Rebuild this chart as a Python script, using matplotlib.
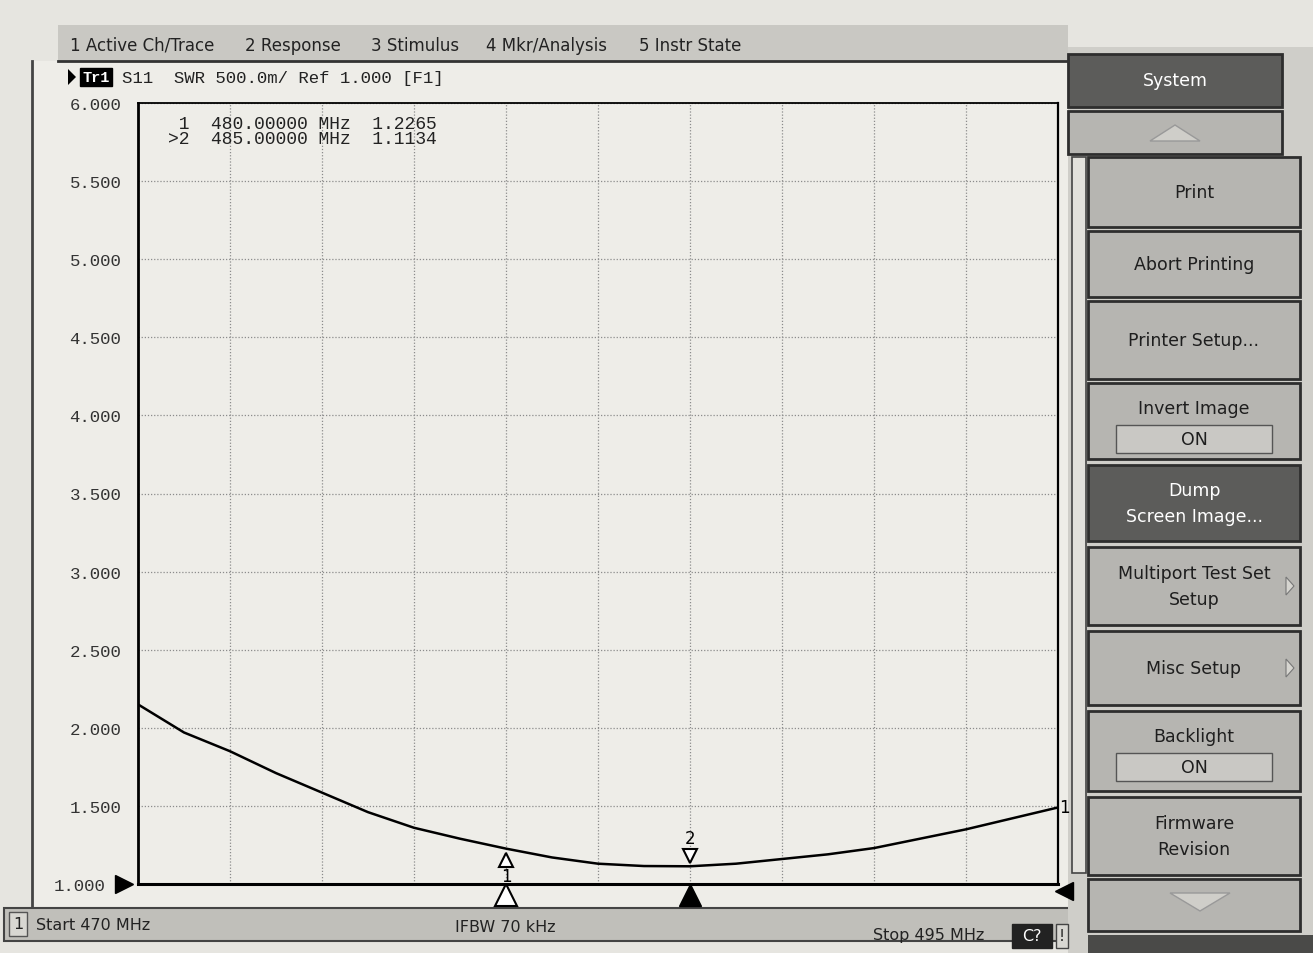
import numpy as np
import matplotlib.pyplot as plt
from matplotlib.patches import Rectangle, Polygon
from matplotlib.transforms import offset_copy, ScaledTranslation

# S11 SWR trace (MHz, SWR)
freq_mhz = [470.0, 471.25, 472.5, 473.75, 475.0, 476.25, 477.5, 478.75, 480.0,
            481.25, 482.5, 483.75, 485.0, 486.25, 487.5, 488.75, 490.0,
            491.25, 492.5, 493.75, 495.0]
swr = [2.15, 1.97, 1.85, 1.71, 1.585, 1.46, 1.36, 1.29, 1.2265,
       1.17, 1.13, 1.115, 1.1134, 1.13, 1.16, 1.19, 1.23,
       1.29, 1.35, 1.42, 1.49]

marker_ids = ['1', '2']
marker_freq = [480.0, 485.0]
marker_swr = [1.2265, 1.1134]
active_marker = '2'

start_mhz, stop_mhz = 470, 495
y_ticks = [1.0, 1.5, 2.0, 2.5, 3.0, 3.5, 4.0, 4.5, 5.0, 5.5, 6.0]

tabs = ['1 Active Ch/Trace', '2 Response', '3 Stimulus', '4 Mkr/Analysis', '5 Instr State']
softkeys = ['System', '', 'Print', 'Abort Printing', 'Printer Setup...', 'Invert Image',
            'Dump\nScreen Image...', 'Multiport Test Set\nSetup', 'Misc Setup',
            'Backlight', 'Firmware\nRevision', '']

W, H = 1313, 954
MONO = 'Liberation Mono'
SANS = 'DejaVu Sans'
PAPER = '#eeede8'

fig = plt.figure(figsize=(W / 100, H / 100), dpi=100)
fig.patch.set_facecolor('#e6e5e0')

# background layer in pixel coords for the instrument screen furniture
bg = fig.add_axes([0, 0, 1, 1])
bg.set_xlim(0, W)
bg.set_ylim(H, 0)
bg.axis('off')

# window
bg.add_patch(Rectangle((32, 62), 1036, 846, fc=PAPER, ec='none'))
bg.plot([32, 32], [62, 908], color='#444', lw=2)
# tab bar
bg.add_patch(Rectangle((58, 26), 1010, 36, fc='#c9c8c3', ec='none'))
bg.plot([58, 1068], [62, 62], color='#333', lw=2)
tab_x = [70, 245, 371, 486, 639]
for tx, t in zip(tab_x, tabs):
    bg.text(tx, 46, t, fontsize=12, family=SANS, color='#222', va='center')

# trace header line
bg.add_patch(Polygon([[68, 70], [68, 86], [76, 78]], closed=True, fc='black'))
bg.add_patch(Rectangle((80, 69), 32, 18, fc='black', ec='black'))
bg.text(96, 78, 'Tr1', fontsize=11, family=MONO, color='white', ha='center',
        va='center', weight='bold')
bg.text(122, 78, 'S11  SWR 500.0m/ Ref 1.000 [F1]', fontsize=12.5, family=MONO,
        color='#222', va='center')

# status bar
bg.add_patch(Rectangle((4, 909), 1076, 33, fc='#c0bfba', ec='#444', lw=1.5))
bg.add_patch(Rectangle((9, 913), 18, 24, fc='#d8d7d2', ec='#555', lw=1))
bg.text(18, 925, '1', fontsize=11.5, family=SANS, color='#222', ha='center', va='center')
bg.text(36, 926, 'Start %d MHz' % start_mhz, fontsize=11.5, family=SANS, color='#222', va='center')
bg.text(455, 928, 'IFBW 70 kHz', fontsize=11.5, family=SANS, color='#222', va='center')
bg.text(873, 936, 'Stop %d MHz' % stop_mhz, fontsize=11.5, family=SANS, color='#222', va='center')
bg.add_patch(Rectangle((1012, 925), 40, 24, fc='#222', ec='#222'))
bg.text(1032, 937, 'C?', fontsize=11.5, family=SANS, color='white', ha='center', va='center')

# softkey panel
bg.add_patch(Rectangle((1068, 48), 245, 906, fc='#cfcec9', ec='none'))
bg.add_patch(Rectangle((1056, 925), 12, 24, fc='#d8d7d2', ec='#444', lw=1))
bg.text(1062, 937, '!', fontsize=11, family=SANS, color='#222', ha='center', va='center')
bg.add_patch(Rectangle((1072, 158), 14, 716, fc='#e2e1dc', ec='#444', lw=1.2))
key_rows = [(55, 108), (112, 155), (158, 228), (232, 298), (302, 380), (384, 460),
            (466, 542), (548, 626), (632, 706), (712, 792), (798, 876), (880, 932)]
dark_keys = {'System', 'Dump\nScreen Image...'}
for (top, bot), label in zip(key_rows, softkeys):
    x0 = 1068 if top < 156 else 1088
    x1 = 1282 if top < 156 else 1300
    dark = label in dark_keys
    bg.add_patch(Rectangle((x0, top), x1 - x0, bot - top,
                           fc='#5c5c5a' if dark else '#b6b5b1', ec='#2e2e2e', lw=2))
    cx = (x0 + x1) / 2
    if label in ('Invert Image', 'Backlight'):
        bg.text(cx, top + 25, label, fontsize=12.5, family=SANS, color='#1e1e1e',
                ha='center', va='center')
        bg.add_patch(Rectangle((cx - 78, top + 42), 156, 28, fc='#c9c8c4', ec='#555', lw=1))
        bg.text(cx, top + 56, 'ON', fontsize=12.5, family=SANS, color='#1e1e1e',
                ha='center', va='center')
    elif label:
        bg.text(cx, (top + bot) / 2, label, fontsize=12.5, family=SANS,
                color='white' if dark else '#1e1e1e', ha='center', va='center',
                linespacing=1.6)
    if label in ('Multiport Test Set\nSetup', 'Misc Setup'):
        ym = (top + bot) / 2
        bg.add_patch(Polygon([[x1 - 14, ym - 9], [x1 - 14, ym + 9], [x1 - 6, ym]],
                             closed=True, fc='#d6d5d0', ec='#777', lw=0.8))
# scroll arrows
bg.add_patch(Polygon([[1150, 142], [1200, 142], [1175, 126]], closed=True, fc='#cfcec9', ec='#999'))
bg.add_patch(Polygon([[1170, 894], [1230, 894], [1200, 912]], closed=True, fc='#cfcec9', ec='#999'))
bg.add_patch(Rectangle((1088, 936), 225, 18, fc='#4a4a48', ec='none'))

# main SWR grid
L, R, T, B = 138, 1058, 104, 885
ax = fig.add_axes([L / W, 1 - B / H, (R - L) / W, (B - T) / H])
ax.set_facecolor(PAPER)
ax.plot(freq_mhz, swr, color='black', lw=1.8, zorder=3)
ax.set_xlim(start_mhz, stop_mhz)
ax.set_ylim(y_ticks[0], y_ticks[-1])
ax.set_xticks(np.linspace(start_mhz, stop_mhz, 11))
ax.set_yticks(y_ticks)
ax.set_xticklabels([])
ax.set_yticklabels(['%.3f' % v for v in y_ticks], family=MONO, fontsize=12.5, color='#333')
ax.tick_params(length=0, axis='y', pad=12)
ax.tick_params(length=0, axis='x')
# bottom label sits left of the reference-level arrow
lbl0 = ax.get_yticklabels()[0]
lbl0.set_transform(lbl0.get_transform() + ScaledTranslation(-16 / 100, 0, fig.dpi_scale_trans))
ax.grid(True, color='#8c8c8c', lw=0.9, ls=(0, (1, 1.5)))
for side, lw in [('left', 2), ('bottom', 2.2), ('top', 1.3), ('right', 1.6)]:
    ax.spines[side].set_linewidth(lw)
    ax.spines[side].set_color('black')

# reference level arrows
ax.plot([start_mhz], [y_ticks[0]], marker='>', ms=13, color='black', clip_on=False,
        transform=offset_copy(ax.transData, fig=fig, x=-14, y=0, units='dots'))
ax.plot([stop_mhz], [y_ticks[0]], marker='<', ms=13, color='black', clip_on=False,
        transform=offset_copy(ax.transData, fig=fig, x=6, y=-7, units='dots'))
ax.text(stop_mhz, swr[-1], '1', fontsize=12, family=SANS, va='center', ha='left',
        transform=offset_copy(ax.transData, fig=fig, x=1, y=0, units='dots'))

# markers
for mid, mf, ms in zip(marker_ids, marker_freq, marker_swr):
    if mid == active_marker:
        ax.plot([mf], [ms], marker='v', ms=10, mfc='white', mec='black', mew=1.5, zorder=4,
                transform=offset_copy(ax.transData, fig=fig, x=0, y=10, units='dots'))
        ax.text(mf, ms, mid, fontsize=12, family=SANS, ha='center', va='center',
                transform=offset_copy(ax.transData, fig=fig, x=0, y=28, units='dots'))
        ax.plot([mf], [y_ticks[0]], marker='^', ms=16, color='black', clip_on=False,
                transform=offset_copy(ax.transData, fig=fig, x=0, y=-11, units='dots'))
    else:
        ax.plot([mf], [ms], marker='^', ms=10, mfc='white', mec='black', mew=1.5, zorder=4,
                transform=offset_copy(ax.transData, fig=fig, x=0, y=-11, units='dots'))
        ax.text(mf, ms, mid, fontsize=12, family=SANS, ha='center', va='center',
                transform=offset_copy(ax.transData, fig=fig, x=0, y=-27, units='dots'))
        ax.plot([mf], [y_ticks[0]], marker='^', ms=16, mfc='white', mec='black', mew=1.5,
                clip_on=False,
                transform=offset_copy(ax.transData, fig=fig, x=0, y=-11, units='dots'))

# marker readout
for i, (mid, mf, ms) in enumerate(zip(marker_ids, marker_freq, marker_swr)):
    flag = '>' if mid == active_marker else ' '
    ax.text(0.033, 0.984 - i * 0.019, '%s%s  %.5f MHz  %.4f' % (flag, mid, mf, ms),
            transform=ax.transAxes, family=MONO, fontsize=13, color='#222', va='top')
bg.plot([163, 163], [110, 186], color='#333', lw=1.5)
bg.plot([163, 460], [110, 106], color='#333', lw=1.3)

fig.savefig('out.png', dpi=100, facecolor=fig.get_facecolor())
